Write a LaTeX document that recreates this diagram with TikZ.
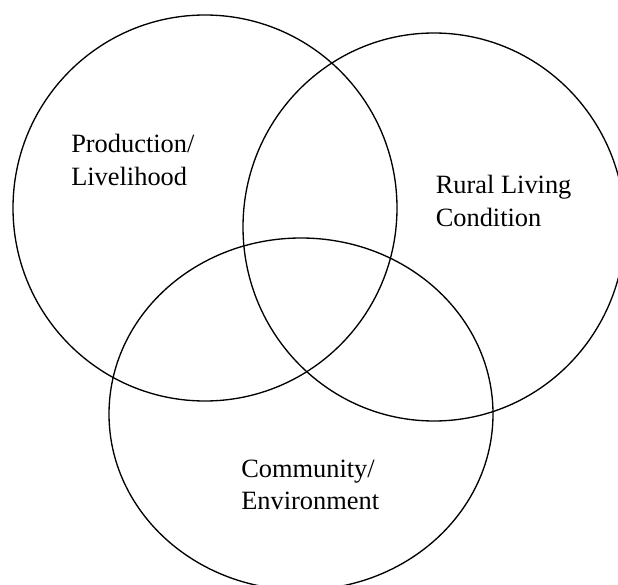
\documentclass[tikz,border=0pt]{standalone}
\usepackage{fontspec}
\setmainfont{Liberation Serif}

\tikzset{
  ring/.style={line width=1pt},
  lbl/.style={align=left, inner sep=0pt, anchor=west, font=\fontsize{19.8}{24.2}\selectfont}
}

\begin{document}
\begin{tikzpicture}[x=0.75pt, y=-0.75pt]
      \useasboundingbox (0, 0) rectangle (618, 585);

      % three sets
      \coordinate (prod) at (205, 208);
      \coordinate (rural) at (434, 227);
      \coordinate (comm) at (301, 414);

      \draw[ring] (prod) ellipse [x radius=144pt, y radius=144.75pt];
      \draw[ring] (rural) ellipse [x radius=143.25pt, y radius=145.5pt];
      \draw[ring] (comm) ellipse [x radius=144pt, y radius=132pt];

      % labels
      \node[lbl] (prodtext) at (71, 160) {Production/\\Livelihood};
      \node[lbl] (ruraltext) at (435.5, 201) {Rural Living\\Condition};
      \node[lbl] (commtext) at (241, 485) {Community/\\Environment};
\end{tikzpicture}
\end{document}
